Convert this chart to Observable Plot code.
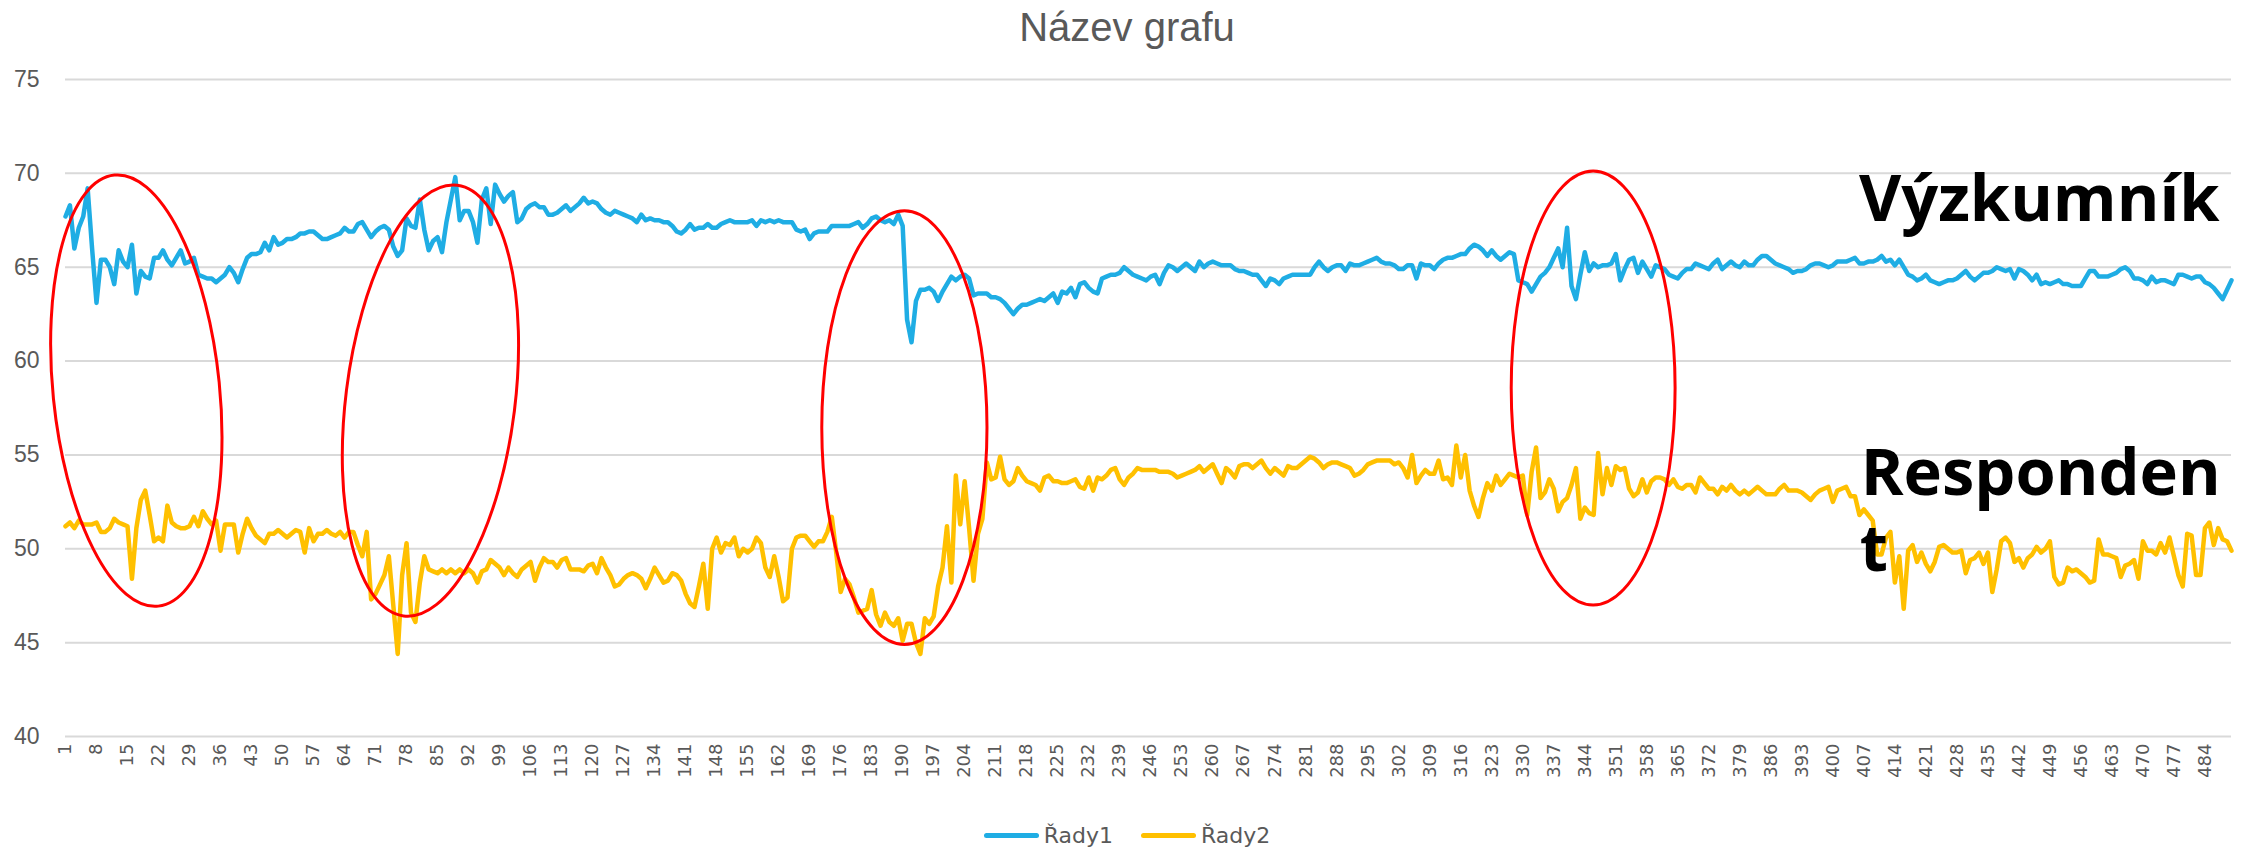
<!DOCTYPE html>
<html><head><meta charset="utf-8">
<script src="https://cdn.jsdelivr.net/npm/d3@7"></script>
<script src="https://cdn.jsdelivr.net/npm/@observablehq/plot@0.6"></script>
<style>
html,body{margin:0;padding:0;background:#fff;width:2254px;height:852px;overflow:hidden}
#title{height:55px;line-height:54px;text-align:center;font-family:"Liberation Sans",Arial,sans-serif;font-size:40px;color:#595959}
#legend{height:37px;display:flex;justify-content:center;align-items:center;padding-top:4px;box-sizing:border-box;font-family:"DejaVu Sans",sans-serif;font-size:22px;color:#595959}
.item{display:flex;align-items:center;margin:0 14px}
.sw{width:55px;height:5px;border-radius:3px;margin-right:5px}
</style></head><body>
<div id="title">Název grafu</div>
<div id="chart"></div>
<div id="legend"></div>
<script>
const seriesNames = ["Řady1", "Řady2"];
const seriesColors = ["#1fade4", "#ffc000"];

const rady1 = [
67.7,68.3,66.0,67.1,67.7,69.2,66.0,63.1,65.4,65.4,
65.0,64.1,65.9,65.3,65.0,66.2,63.6,64.8,64.5,64.4,
65.5,65.5,65.9,65.4,65.1,65.5,65.9,65.2,65.3,65.5,
64.6,64.5,64.4,64.4,64.2,64.4,64.6,65.0,64.7,64.2,
64.9,65.5,65.7,65.7,65.8,66.3,65.9,66.6,66.2,66.3,
66.5,66.5,66.6,66.8,66.8,66.9,66.9,66.7,66.5,66.5,
66.6,66.7,66.8,67.1,66.9,66.9,67.3,67.4,67.0,66.6,
66.9,67.1,67.2,67.0,66.1,65.6,65.9,67.6,67.2,67.1,
68.6,67.0,65.9,66.4,66.6,65.8,67.4,68.6,69.8,67.5,
68.0,68.0,67.4,66.3,68.6,69.2,67.3,69.4,68.9,68.5,
68.8,69.0,67.4,67.6,68.1,68.3,68.4,68.2,68.2,67.8,
67.8,67.9,68.1,68.3,68.0,68.2,68.4,68.7,68.4,68.5,
68.4,68.1,67.9,67.8,68.0,67.9,67.8,67.7,67.6,67.4,
67.8,67.5,67.6,67.5,67.5,67.4,67.4,67.2,66.9,66.8,
67.0,67.3,67.0,67.1,67.1,67.3,67.1,67.1,67.3,67.4,
67.5,67.4,67.4,67.4,67.4,67.5,67.2,67.5,67.4,67.5,
67.4,67.5,67.4,67.4,67.4,67.0,66.9,67.0,66.5,66.8,
66.9,66.9,66.9,67.2,67.2,67.2,67.2,67.2,67.3,67.4,
67.1,67.3,67.6,67.7,67.5,67.4,67.5,67.3,67.8,67.2,
62.2,61.0,63.2,63.8,63.8,63.9,63.7,63.2,63.7,64.1,
64.5,64.3,64.5,64.6,64.4,63.5,63.6,63.6,63.6,63.4,
63.4,63.3,63.1,62.8,62.5,62.8,63.0,63.0,63.1,63.2,
63.3,63.2,63.4,63.6,63.1,63.7,63.6,63.9,63.4,64.1,
64.2,63.9,63.7,63.6,64.4,64.5,64.6,64.6,64.7,65.0,
64.8,64.6,64.5,64.4,64.3,64.5,64.6,64.1,64.7,65.1,
65.0,64.8,65.0,65.2,65.0,64.8,65.3,65.0,65.2,65.3,
65.2,65.1,65.1,65.1,64.9,64.8,64.8,64.7,64.6,64.6,
64.3,64.0,64.4,64.3,64.1,64.4,64.5,64.6,64.6,64.6,
64.6,64.6,65.0,65.3,65.0,64.8,65.0,65.1,65.1,64.8,
65.2,65.1,65.1,65.2,65.3,65.4,65.5,65.3,65.2,65.2,
65.1,64.9,64.9,65.1,65.1,64.4,65.2,65.1,65.1,64.9,
65.2,65.4,65.5,65.5,65.6,65.7,65.7,66.0,66.2,66.1,
65.9,65.6,65.9,65.6,65.4,65.6,65.8,65.7,64.3,64.2,
64.1,63.7,64.1,64.5,64.7,65.0,65.5,66.0,65.0,67.1,
64.0,63.3,64.6,65.8,64.8,65.2,65.0,65.1,65.1,65.2,
65.7,64.3,64.9,65.4,65.5,64.7,65.3,64.9,64.5,65.1,
65.0,64.9,64.6,64.5,64.4,64.7,64.9,64.9,65.2,65.1,
65.0,64.9,65.2,65.4,64.9,65.1,65.3,65.1,65.0,65.3,
65.1,65.1,65.4,65.6,65.6,65.4,65.2,65.1,65.0,64.9,
64.7,64.8,64.8,64.9,65.1,65.2,65.2,65.1,65.0,65.1,
65.3,65.3,65.3,65.4,65.5,65.2,65.2,65.3,65.3,65.4,
65.6,65.3,65.4,65.1,65.4,65.0,64.6,64.5,64.3,64.4,
64.6,64.3,64.2,64.1,64.2,64.3,64.3,64.4,64.6,64.8,
64.5,64.3,64.5,64.7,64.7,64.8,65.0,64.9,64.8,64.9,
64.4,64.9,64.8,64.6,64.3,64.6,64.1,64.2,64.1,64.2,
64.3,64.1,64.1,64.0,64.0,64.0,64.4,64.8,64.8,64.5,
64.5,64.5,64.6,64.7,64.9,65.0,64.8,64.4,64.4,64.3,
64.1,64.5,64.2,64.3,64.3,64.2,64.1,64.6,64.6,64.5,
64.4,64.5,64.5,64.2,64.1,63.9,63.6,63.3,63.8,64.3
];

const rady2 = [
51.2,51.4,51.1,51.5,51.3,51.3,51.3,51.4,50.9,50.9,
51.1,51.6,51.4,51.3,51.2,48.4,51.1,52.6,53.1,51.8,
50.4,50.6,50.4,52.3,51.4,51.2,51.1,51.1,51.2,51.7,
51.2,52.0,51.6,51.3,51.5,49.9,51.3,51.3,51.3,49.8,
50.8,51.6,51.1,50.7,50.5,50.3,50.8,50.8,51.0,50.8,
50.6,50.8,51.0,50.9,49.8,51.1,50.4,50.8,50.8,51.0,
50.8,50.7,50.9,50.6,50.9,50.9,50.2,49.6,50.9,47.3,
47.6,48.1,48.6,49.6,47.0,44.4,48.6,50.3,46.6,46.1,
48.2,49.6,48.9,48.8,48.7,48.9,48.7,48.9,48.7,48.9,
48.7,48.9,48.7,48.2,48.8,48.9,49.4,49.2,49.0,48.6,
49.0,48.7,48.5,48.9,49.1,49.3,48.3,49.0,49.5,49.3,
49.3,49.0,49.4,49.5,48.9,48.9,48.9,48.8,49.1,49.2,
48.7,49.5,49.0,48.6,48.0,48.1,48.4,48.6,48.7,48.6,
48.4,47.9,48.4,49.0,48.6,48.2,48.3,48.7,48.6,48.3,
47.6,47.1,46.9,48.0,49.2,46.8,50.0,50.6,49.8,50.3,
50.2,50.6,49.6,50.0,49.8,50.0,50.6,50.3,49.0,48.5,
49.6,48.5,47.2,47.4,50.0,50.6,50.7,50.7,50.4,50.1,
50.4,50.4,50.9,51.7,49.8,47.7,48.4,48.1,47.4,46.6,
46.7,46.8,47.8,46.5,45.9,46.6,46.1,45.9,46.3,45.1,
46.0,46.0,45.0,44.4,46.3,46.0,46.4,48.0,49.0,51.2,
48.2,53.9,51.3,53.6,51.1,48.3,50.8,51.6,54.6,53.7,
53.8,54.9,53.7,53.4,53.6,54.3,53.9,53.6,53.5,53.4,
53.1,53.8,53.9,53.6,53.6,53.5,53.5,53.6,53.7,53.3,
53.2,53.8,53.1,53.8,53.7,53.9,54.2,54.3,53.7,53.4,
53.8,54.0,54.3,54.2,54.2,54.2,54.2,54.1,54.1,54.1,
54.0,53.8,53.9,54.0,54.1,54.2,54.4,54.1,54.3,54.5,
54.0,53.5,54.3,54.1,53.8,54.4,54.5,54.5,54.3,54.5,
54.7,54.3,54.0,54.3,54.1,53.9,54.4,54.3,54.3,54.5,
54.7,54.9,54.8,54.6,54.3,54.5,54.6,54.6,54.5,54.4,
54.3,53.9,54.0,54.2,54.5,54.6,54.7,54.7,54.7,54.7,
54.5,54.6,54.3,53.8,55.0,53.5,53.9,54.2,54.0,54.0,
54.7,53.7,53.8,53.4,55.5,53.8,55.0,53.1,52.3,51.7,
52.7,53.5,53.1,53.9,53.4,53.7,54.0,53.9,53.8,53.9,
51.8,54.1,55.4,52.7,53.0,53.7,53.2,52.0,52.5,52.7,
53.4,54.3,51.6,52.2,51.9,51.8,55.1,52.9,54.3,53.4,
54.4,54.2,54.3,53.2,52.8,53.0,53.7,53.0,53.6,53.8,
53.8,53.7,53.4,53.7,53.3,53.2,53.4,53.4,53.0,53.8,
53.5,53.2,53.2,52.9,53.3,53.1,53.4,53.1,52.9,53.1,
52.9,53.1,53.3,53.1,52.9,52.9,52.9,53.2,53.4,53.1,
53.1,53.1,53.0,52.8,52.6,52.9,53.1,53.2,53.3,52.5,
53.1,53.2,53.3,52.8,52.8,51.8,52.1,51.8,51.5,49.7,
49.7,50.6,50.9,48.2,49.6,46.8,49.9,50.2,49.3,49.8,
49.2,48.8,49.3,50.1,50.2,50.0,49.8,49.8,49.9,48.7,
49.4,49.5,49.8,49.2,49.8,47.7,48.9,50.4,50.6,50.3,
49.3,49.5,49.0,49.5,49.7,50.1,49.8,50.0,50.4,48.5,
48.1,48.2,49.0,48.8,48.9,48.7,48.5,48.2,48.3,50.5,
49.7,49.7,49.6,49.5,48.5,49.1,49.2,49.4,48.4,50.4,
49.9,49.9,49.7,50.3,49.8,50.6,49.6,48.6,48.0,50.8,
50.7,48.6,48.6,51.1,51.4,50.2,51.1,50.5,50.4,49.9
];

const categories = rady1.map((_, k) => k + 1);

const xTickLabels = [1,8,15,22,29,36,43,50,57,64,71,78,85,92,99,106,113,120,127,134,141,148,155,162,169,176,183,190,197,204,211,218,225,232,239,246,253,260,267,274,281,288,295,302,309,316,323,330,337,344,351,358,365,372,379,386,393,400,407,414,421,428,435,442,449,456,463,470,477,484];
const yTickLabels = [40,45,50,55,60,65,70,75];

// annotations (category, value)
const noteTexts = ["Výzkumník", "Responden", "t"];
const noteCat = [406, 406.4, 406.2];
const noteVal = [67.45, 52.82, 48.78];

const ellCat = [17.1, 83.5, 190.5, 346.0];
const ellVal = [58.4, 57.87, 56.43, 58.54];
const ellHalfCat = [18.8, 19.1, 18.65, 18.5];
const ellHalfVal = [11.54, 11.56, 11.55, 11.56];
const ellRot = [-5.8, 7.1, 0, 0];

const table1 = categories.map((c, k) => ({cat: c, val: rady1[k]}));
const table2 = categories.map((c, k) => ({cat: c, val: rady2[k]}));

const chart = Plot.plot({
  width: 2254, height: 760,
  marginLeft: 65, marginRight: 23, marginTop: 24, marginBottom: 79,
  style: {fontFamily: "DejaVu Sans, sans-serif", color: "#595959", background: "white", overflow: "visible"},
  x: {type: "linear", domain: [1, 490]},
  y: {domain: [40, 75]},
  marks: [
    Plot.gridY(yTickLabels, {stroke: "#d9d9d9", strokeOpacity: 1, strokeWidth: 2}),
    Plot.axisY(yTickLabels, {tickSize: 0, tickPadding: 26, fontSize: 23, fontFamily: "Liberation Sans, Arial, sans-serif", label: null}),
    Plot.axisX(xTickLabels, {tickSize: 0, tickPadding: 7, tickRotate: -90, fontSize: 18, label: null}),
    Plot.line(table1, {x: "cat", y: "val", stroke: seriesColors[0], strokeWidth: 4.5, strokeLinejoin: "round", strokeLinecap: "round"}),
    Plot.line(table2, {x: "cat", y: "val", stroke: seriesColors[1], strokeWidth: 4.5, strokeLinejoin: "round", strokeLinecap: "round"})
  ]
});

const sx = chart.scale("x"), sy = chart.scale("y");
const svg = d3.select(chart);
const g = svg.append("g");
for (let k = 0; k < ellCat.length; k++) {
  const cx = sx.apply(ellCat[k]), cy = sy.apply(ellVal[k]);
  const rx = Math.abs(sx.apply(ellCat[k] + ellHalfCat[k]) - cx);
  const ry = Math.abs(sy.apply(ellVal[k] + ellHalfVal[k]) - cy);
  g.append("ellipse").attr("cx", cx).attr("cy", cy).attr("rx", rx).attr("ry", ry)
    .attr("transform", `rotate(${ellRot[k]},${cx},${cy})`)
    .attr("fill", "none").attr("stroke", "#ff0000").attr("stroke-width", 3);
}
for (let k = 0; k < noteTexts.length; k++) {
  g.append("text").attr("x", sx.apply(noteCat[k])).attr("y", sy.apply(noteVal[k]))
    .attr("text-anchor", "start")
    .attr("font-family", "Open Sans, sans-serif").attr("font-weight", 700).attr("font-size", 65)
    .attr("fill", "#000").text(noteTexts[k]);
}
document.getElementById("chart").appendChild(chart);

const legend = document.getElementById("legend");
seriesNames.forEach((n, k) => {
  const it = document.createElement("div"); it.className = "item";
  const sw = document.createElement("span"); sw.className = "sw"; sw.style.background = seriesColors[k];
  const tx = document.createElement("span"); tx.textContent = n;
  it.appendChild(sw); it.appendChild(tx); legend.appendChild(it);
});
</script></body></html>
